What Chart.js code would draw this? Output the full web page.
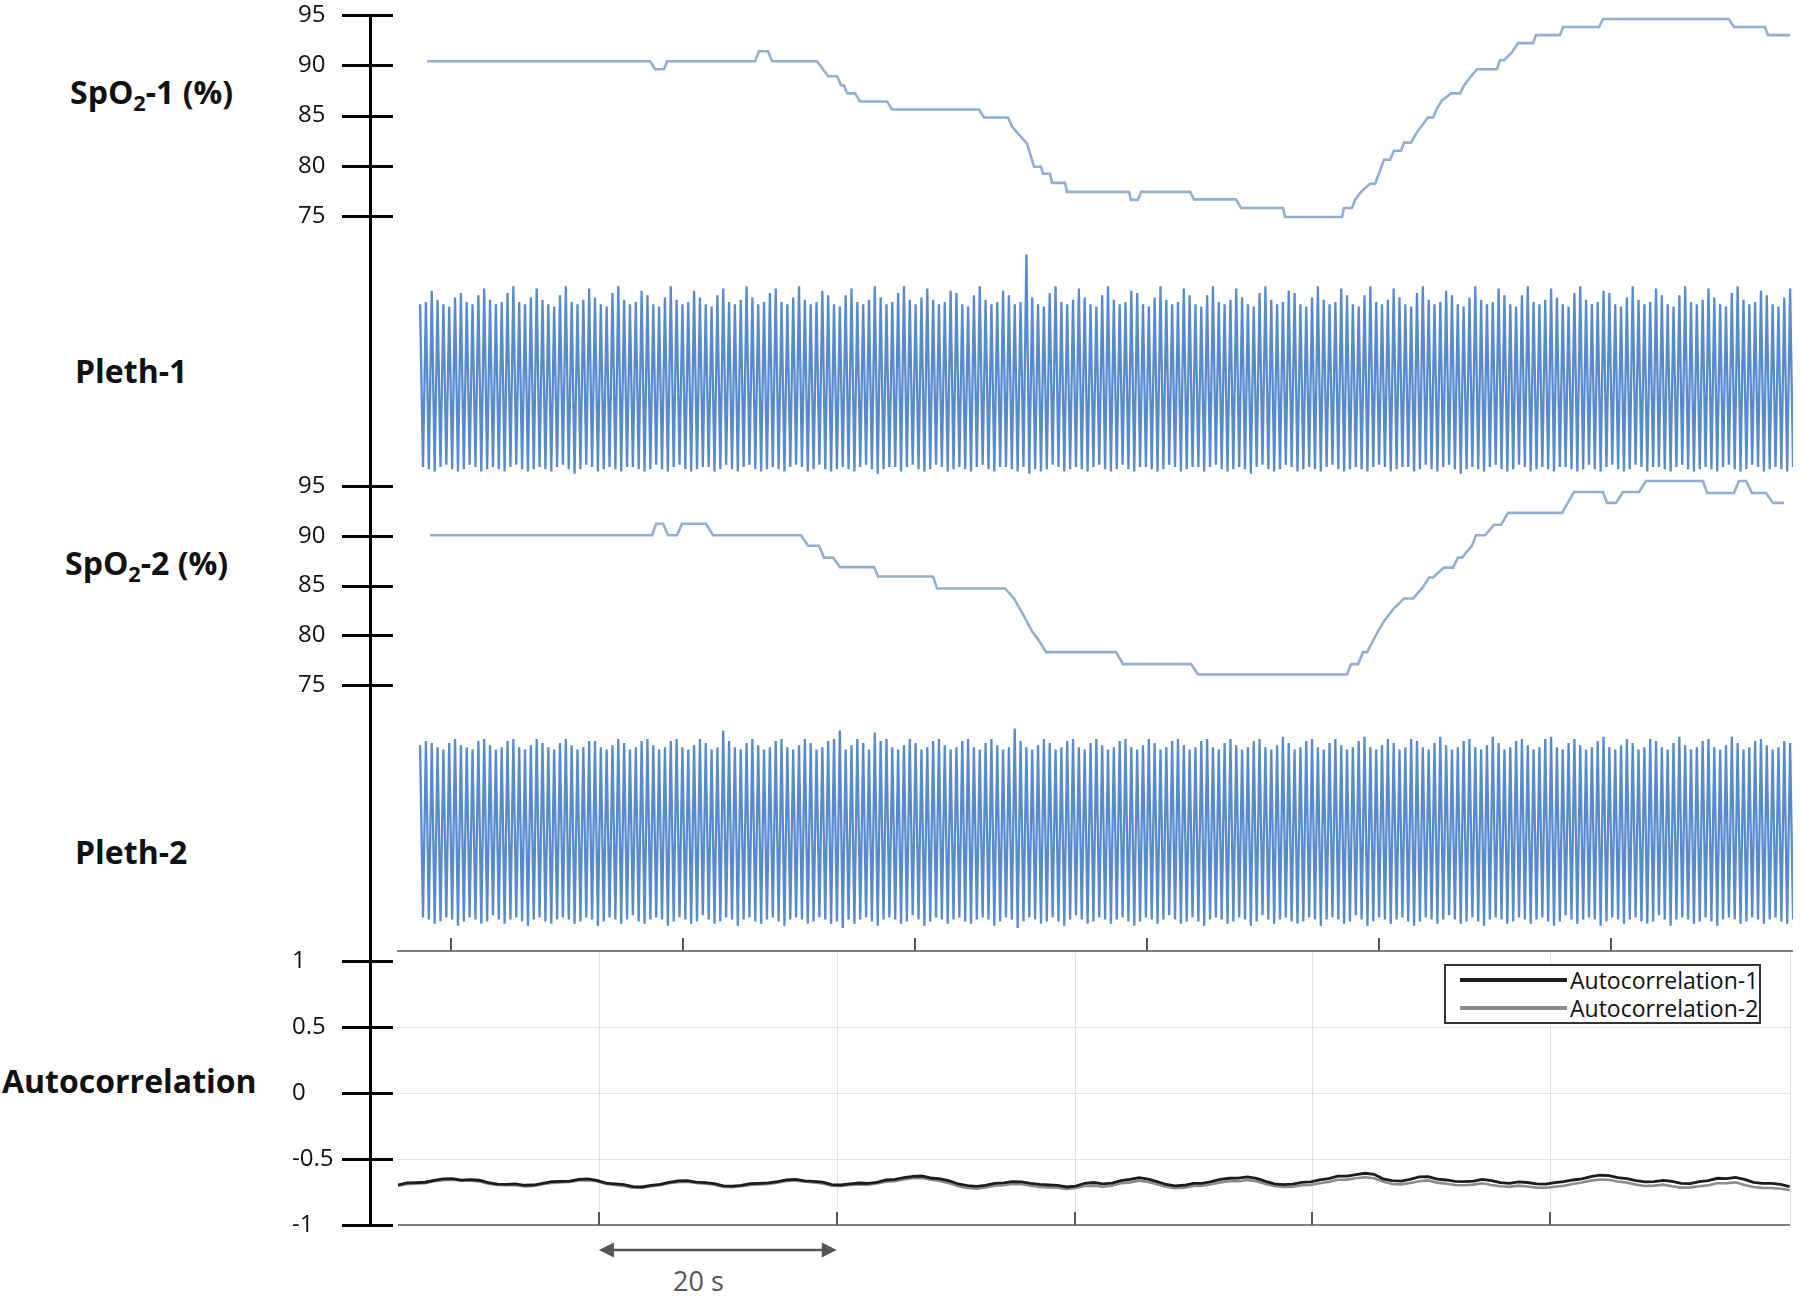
<!DOCTYPE html>
<html>
<head>
<meta charset="utf-8">
<script src="https://cdn.jsdelivr.net/npm/chart.js@4.4.0/dist/chart.umd.min.js"></script>
<style>
  html, body { margin: 0; padding: 0; background: #fff; }
  #page { position: relative; width: 1800px; height: 1298px; overflow: hidden; font-family: 'Open Sans', sans-serif; }
  .panel { position: absolute; left: 0; width: 1800px; }
  .title { position: absolute; font-weight: 700; font-size: 32px; color: #111; line-height: 1; transform: translateY(-50%); white-space: nowrap; }
  .title sub { font-size: 0.68em; vertical-align: -0.3em; line-height: 0; }
  #legend { position: absolute; left: 1444px; top: 964px; width: 317px; height: 60px; box-sizing: border-box;
            border: 2px solid #333; background: #fff; padding-left: 14px; }
  #legend .item { height: 28px; display: flex; align-items: center; font-size: 23px; color: #111; white-space: nowrap; }
  #legend .swatch { display: inline-block; width: 107px; height: 3.5px; margin-right: 3px; }
  #scaleLabel { position: absolute; left: 673px; top: 1280px; transform: translateY(-50%); font-size: 27px; color: #555; line-height: 1; }
</style>
</head>
<body>
<div id="page">
  <div class="title" style="left:70px; top:92px">SpO<sub>2</sub>-1 (%)</div>
  <div class="title" style="left:75px; top:371px">Pleth-1</div>
  <div class="title" style="left:65px; top:563px">SpO<sub>2</sub>-2 (%)</div>
  <div class="title" style="left:75px; top:852px">Pleth-2</div>
  <div class="title" style="left:2px; top:1081px">Autocorrelation</div>
  <div id="scaleLabel">20 s</div>
</div>
<script>
// time axis shared by the SpO2 / Pleth panels (s)
const waveTicks = [0, 20, 40, 60, 80, 100];
const waveRange = [-4.66, 115.69];
const spoTicks = [75, 80, 85, 90, 95];

// SpO2-1: breakpoints of the step trace
const spo1Time = [-2.07, 17.16, 17.59, 18.36, 18.62, 26.21, 26.55, 27.33, 27.67, 31.55, 32.07, 32.50, 33.28, 33.62, 33.88,
  34.14, 34.83, 35.26, 37.59, 38.02, 45.52, 45.95, 48.02, 48.36, 48.88, 49.66, 50.26, 50.86, 51.03, 51.64, 51.81, 52.93,
  53.10, 58.45, 58.62, 59.22, 59.48, 63.71, 64.05, 67.67, 68.10, 71.72, 71.90, 76.81, 76.98, 77.67, 77.93, 78.45, 79.22,
  79.66, 80.43, 80.95, 81.29, 81.90, 82.16, 82.76, 83.19, 83.71, 84.22, 84.66, 85.00, 85.43, 86.21, 86.98, 87.33, 87.93,
  88.45, 90.17, 90.43, 90.78, 91.47, 91.98, 93.28, 93.53, 95.60, 95.86, 98.97, 99.31, 110.17, 110.60, 113.28, 113.53, 115.43];
const spo1Value = [90.4, 90.4, 89.6, 89.6, 90.4, 90.4, 91.4, 91.4, 90.4, 90.4, 89.6, 88.9, 88.9, 88.0, 88.0,
  87.2, 87.2, 86.4, 86.4, 85.6, 85.6, 84.8, 84.8, 83.9, 83.2, 82.2, 79.9, 79.9, 79.2, 79.2, 78.3, 78.3,
  77.4, 77.4, 76.6, 76.6, 77.4, 77.4, 76.65, 76.65, 75.8, 75.8, 74.9, 74.9, 75.8, 75.8, 76.6, 77.4, 78.2,
  78.2, 80.6, 80.6, 81.5, 81.5, 82.3, 82.3, 83.2, 84.0, 84.8, 84.8, 85.7, 86.5, 87.2, 87.2, 88.0, 88.9,
  89.6, 89.6, 90.5, 90.5, 91.3, 92.2, 92.2, 93.0, 93.0, 93.8, 93.8, 94.6, 94.6, 93.8, 93.8, 93.0, 93.0];

// SpO2-2
const spo2Time = [-1.81, 17.33, 17.67, 18.28, 18.71, 19.48, 19.91, 21.98, 22.59, 30.17, 30.78, 31.72, 32.16, 32.93, 33.53,
  36.47, 36.81, 41.55, 41.90, 47.76, 48.53, 49.31, 50.09, 50.78, 51.29, 57.33, 57.93, 63.79, 64.40, 77.24, 77.59, 78.19,
  78.62, 78.97, 79.91, 80.43, 81.21, 82.16, 82.93, 83.71, 84.31, 84.66, 85.60, 86.38, 86.81, 87.16, 88.02, 88.36, 89.14,
  89.91, 90.52, 91.12, 95.78, 96.81, 99.31, 99.66, 100.43, 101.03, 102.41, 103.02, 107.93, 108.28, 110.60, 111.03, 111.64,
  112.16, 113.36, 113.97, 114.91];
const spo2Value = [90.05, 90.05, 91.2, 91.2, 90.05, 90.05, 91.2, 91.2, 90.05, 90.05, 89.0, 89.0, 87.8, 87.8, 86.85,
  86.85, 85.9, 85.9, 84.7, 84.7, 83.7, 82.1, 80.4, 79.3, 78.3, 78.3, 77.1, 77.1, 76.05, 76.05, 77.1, 77.1,
  78.3, 78.3, 80.4, 81.4, 82.6, 83.7, 83.7, 84.7, 85.8, 85.8, 86.8, 86.8, 87.8, 87.8, 89.0, 90.05, 90.05,
  91.1, 91.1, 92.3, 92.3, 94.4, 94.4, 93.3, 93.3, 94.4, 94.4, 95.5, 95.5, 94.3, 94.3, 95.5, 95.5,
  94.3, 94.3, 93.3, 93.3];

// Pleth waveforms: one peak and one trough per beat (arbitrary units)
const plethStart = -2.67;
const plethHalfBeat = 0.2513;
const pleth1Peaks = [
  76,77,82,78,76,75,79,81,77,76,80,83,78,76,77,81,84,77,76,79,
  83,78,76,75,80,84,77,76,78,83,79,76,75,81,84,78,76,77,82,80,
  76,75,79,84,78,76,77,82,79,76,75,80,83,77,76,78,84,79,76,77,
  81,83,77,76,79,84,78,76,77,82,80,76,75,80,83,77,76,78,84,79,
  76,77,81,84,78,76,79,83,78,76,77,82,81,76,75,80,84,78,76,77,
  82,80,76,77,98,79,76,75,81,84,77,76,78,83,79,76,75,80,84,78,
  76,77,82,81,76,75,79,84,78,76,77,83,80,76,75,80,84,77,76,78,
  83,79,76,75,81,84,78,76,77,82,81,76,75,79,84,78,76,77,83,80,
  76,75,80,84,77,76,78,83,79,76,75,81,84,78,76,77,82,80,76,75,
  79,84,78,76,77,83,80,76,75,80,84,77,76,78,83,79,76,75,81,84,
  78,76,77,82,81,76,75,79,84,78,76,77,83,80,76,75,80,84,77,76,
  78,83,79,76,75,81,84,78,76,77,82,80,76,75,79,83];
const pleth1Troughs = [
  4,3,2,4,5,3,2,3,5,4,2,3,4,3,2,4,5,3,2,3,
  4,3,2,4,5,3,1,3,5,4,2,3,4,3,2,4,4,3,2,3,
  5,3,2,4,5,3,2,3,4,4,2,3,5,3,2,4,5,3,2,3,
  4,3,2,4,5,4,2,3,5,3,2,3,4,3,2,4,5,3,1,3,
  4,4,2,4,5,3,2,3,5,4,2,3,4,3,2,4,5,3,2,4,
  4,3,2,4,1,3,2,3,5,4,2,3,4,3,2,4,5,3,2,3,
  5,3,2,4,4,3,2,3,5,4,2,3,4,4,2,4,5,3,2,3,
  4,3,1,4,5,3,2,3,5,4,2,3,4,3,2,4,5,3,2,3,
  4,3,2,4,5,4,2,3,4,4,2,3,5,3,2,4,5,3,1,3,
  4,3,2,4,5,3,2,3,5,4,2,3,4,3,2,4,4,3,2,3,
  5,3,2,4,5,3,2,3,5,4,2,4,4,3,2,4,5,3,2,3,
  4,3,2,4,5,3,2,3,5,4,2,3,4,3,2,4];
const pleth2Peaks = [
  88,90,89,87,86,89,91,88,87,86,90,91,88,86,87,90,91,87,86,88,
  91,89,87,86,89,91,88,86,87,90,90,87,86,88,91,89,86,87,90,91,
  88,86,87,90,91,87,86,88,91,89,86,87,95,90,87,86,89,91,88,86,
  87,90,91,87,86,88,91,89,86,87,90,91,95,86,88,91,89,86,94,90,
  91,87,86,88,91,89,86,87,90,91,88,86,87,90,91,87,86,89,91,88,
  86,87,96,90,87,86,88,91,89,86,87,90,91,87,86,89,91,88,86,87,
  90,91,87,86,88,91,89,86,87,90,91,88,86,87,90,91,87,86,89,91,
  88,86,87,90,91,87,86,88,92,89,86,87,90,91,87,86,89,91,88,86,
  87,90,92,87,86,88,91,89,86,87,91,90,87,86,89,92,88,86,87,90,
  91,87,86,88,92,89,86,87,90,91,88,86,87,91,92,87,86,89,91,88,
  86,87,90,92,87,86,88,91,89,86,87,91,90,87,86,89,92,88,86,87,
  90,91,87,86,88,92,89,86,87,90,91,88,86,87,90,89];
const pleth2Troughs = [
  6,5,3,4,6,5,2,4,6,5,3,4,7,5,3,5,6,4,2,5,
  6,4,3,5,6,5,3,4,6,5,2,4,6,5,3,5,7,4,3,5,
  6,5,2,4,6,5,3,4,7,5,3,4,6,5,2,5,6,4,3,5,
  6,4,2,5,6,5,3,4,6,5,3,4,1,5,3,5,6,4,2,5,
  6,5,3,4,7,5,2,4,6,5,3,5,6,4,3,5,6,5,2,4,
  6,5,1,4,6,5,3,4,6,4,2,5,7,5,3,4,6,5,3,5,
  6,4,2,4,6,5,3,5,7,5,3,4,6,4,2,5,6,5,3,4,
  6,5,2,4,7,5,3,5,6,4,3,4,6,5,2,5,6,5,3,4,
  7,5,2,4,6,5,3,5,6,4,2,4,6,5,3,5,7,5,3,4,
  6,4,2,5,6,5,3,4,6,5,3,5,6,4,2,4,7,5,3,5,
  6,5,2,4,6,5,3,5,6,4,3,4,7,5,2,5,6,5,3,4,
  6,4,2,5,6,5,3,4,6,5,3,5,6,4,3,5];

// Autocorrelation panel (own time axis, s)
const acTicks = [-1, -0.5, 0, 0.5, 1];
const acGrid = [20, 40, 60, 80, 100];
const acRange = [3.1, 120.17];
const acStart = 3.1;
const acStep = 0.76;
const acLabels = ['Autocorrelation-1', 'Autocorrelation-2'];
const ac1 = [
  -0.697,-0.681,-0.679,-0.676,-0.662,-0.650,-0.649,-0.660,-0.657,-0.661,
  -0.679,-0.691,-0.692,-0.688,-0.699,-0.697,-0.684,-0.671,-0.669,-0.668,
  -0.654,-0.650,-0.662,-0.683,-0.689,-0.694,-0.710,-0.712,-0.699,-0.693,
  -0.677,-0.666,-0.664,-0.675,-0.679,-0.686,-0.704,-0.706,-0.699,-0.686,
  -0.684,-0.681,-0.672,-0.659,-0.654,-0.666,-0.669,-0.676,-0.694,-0.697,
  -0.689,-0.682,-0.684,-0.677,-0.659,-0.655,-0.641,-0.631,-0.629,-0.644,
  -0.651,-0.665,-0.689,-0.701,-0.707,-0.699,-0.684,-0.681,-0.672,-0.673,
  -0.684,-0.693,-0.697,-0.700,-0.712,-0.706,-0.684,-0.678,-0.689,-0.682,
  -0.664,-0.655,-0.641,-0.652,-0.672,-0.693,-0.704,-0.699,-0.684,-0.684,
  -0.672,-0.654,-0.646,-0.645,-0.636,-0.647,-0.669,-0.688,-0.694,-0.690,
  -0.677,-0.674,-0.659,-0.648,-0.629,-0.630,-0.619,-0.608,-0.616,-0.650,
  -0.664,-0.667,-0.654,-0.636,-0.634,-0.652,-0.659,-0.670,-0.672,-0.668,
  -0.654,-0.663,-0.679,-0.684,-0.674,-0.678,-0.689,-0.690,-0.679,-0.671,
  -0.659,-0.650,-0.634,-0.623,-0.626,-0.641,-0.649,-0.664,-0.674,-0.672,
  -0.662,-0.670,-0.684,-0.686,-0.672,-0.663,-0.646,-0.648,-0.639,-0.655,
  -0.677,-0.684,-0.684,-0.692,-0.710];
const ac2 = [
  -0.704,-0.690,-0.687,-0.683,-0.669,-0.660,-0.657,-0.664,-0.664,-0.670,
  -0.687,-0.697,-0.699,-0.698,-0.707,-0.704,-0.692,-0.681,-0.677,-0.674,
  -0.662,-0.660,-0.669,-0.688,-0.697,-0.704,-0.717,-0.718,-0.707,-0.699,
  -0.684,-0.676,-0.672,-0.682,-0.687,-0.695,-0.712,-0.714,-0.707,-0.696,
  -0.692,-0.689,-0.679,-0.667,-0.662,-0.672,-0.677,-0.686,-0.702,-0.704,
  -0.697,-0.692,-0.694,-0.686,-0.672,-0.668,-0.654,-0.645,-0.644,-0.657,
  -0.667,-0.684,-0.707,-0.719,-0.725,-0.716,-0.702,-0.699,-0.689,-0.691,
  -0.702,-0.711,-0.715,-0.717,-0.727,-0.720,-0.704,-0.702,-0.710,-0.703,
  -0.684,-0.677,-0.664,-0.674,-0.692,-0.711,-0.722,-0.717,-0.704,-0.702,
  -0.692,-0.677,-0.669,-0.668,-0.659,-0.668,-0.689,-0.704,-0.712,-0.710,
  -0.699,-0.697,-0.684,-0.674,-0.657,-0.656,-0.646,-0.638,-0.646,-0.671,
  -0.689,-0.692,-0.682,-0.668,-0.662,-0.679,-0.687,-0.697,-0.699,-0.694,
  -0.684,-0.697,-0.707,-0.711,-0.702,-0.708,-0.717,-0.718,-0.710,-0.703,
  -0.689,-0.678,-0.664,-0.655,-0.657,-0.670,-0.679,-0.694,-0.704,-0.702,
  -0.694,-0.707,-0.717,-0.715,-0.707,-0.699,-0.684,-0.684,-0.677,-0.697,
  -0.712,-0.719,-0.720,-0.725,-0.735];

const FONT = "'Open Sans', sans-serif";
const AXIS_X = 370.5;

function pairs(times, values) {
  return values.map((v, i) => ({ x: times[i], y: v }));
}
function zigzag(peaks, troughs) {
  const pts = [];
  peaks.forEach((p, i) => {
    pts.push({ x: plethStart + 2 * i * plethHalfBeat, y: p });
    pts.push({ x: plethStart + (2 * i + 1) * plethHalfBeat, y: troughs[i] });
  });
  return pts;
}

// thick black axis running down the left of every panel, with crossing ticks;
// each panel paints only its own band so the pieces butt together
const axisLine = {
  id: 'axisLine',
  afterDraw(chart, args, o) {
    const { ctx, chartArea: a } = chart;
    const y0 = o.first ? Math.round(a.top) - 1 : o.from;
    const y1 = o.last ? Math.round(a.bottom) + 2 : o.to;
    ctx.save();
    ctx.fillStyle = '#000';
    ctx.fillRect(AXIS_X - 1.5, y0, 3, y1 - y0);
    (o.marks || []).forEach(v => {
      const py = Math.round(chart.scales.y.getPixelForValue(v));
      ctx.fillRect(AXIS_X - 28.5, py - 1, 51, 3);
    });
    ctx.restore();
  }
};

// grey time axis with inward ticks, optional grid, frame and scale arrow
const timeAxis = {
  id: 'timeAxis',
  beforeDatasetsDraw(chart, args, o) {
    if (!o.ticks || !o.grid) return;
    const { ctx, chartArea: a, scales: { x } } = chart;
    ctx.save();
    ctx.strokeStyle = '#e3e3e3';
    ctx.lineWidth = 1;
    ctx.beginPath();
    o.ticks.forEach(v => {
      const px = Math.round(x.getPixelForValue(v)) + 0.5;
      ctx.moveTo(px, a.top - 8);
      ctx.lineTo(px, a.bottom);
    });
    ctx.moveTo(a.right + 0.5, a.top - 8);
    ctx.lineTo(a.right + 0.5, a.bottom);
    ctx.stroke();
    ctx.restore();
  },
  afterDraw(chart, args, o) {
    if (!o.ticks) return;
    const { ctx, chartArea: a, scales: { x } } = chart;
    ctx.save();
    ctx.strokeStyle = '#808080';
    ctx.lineWidth = 2;
    ctx.beginPath();
    ctx.moveTo(a.left, a.bottom);
    ctx.lineTo(a.right, a.bottom);
    ctx.stroke();
    ctx.strokeStyle = '#555';
    ctx.beginPath();
    o.ticks.forEach(v => {
      const px = Math.round(x.getPixelForValue(v));
      ctx.moveTo(px, a.bottom);
      ctx.lineTo(px, a.bottom - 13);
    });
    ctx.stroke();
    if (o.arrow) {
      const x0 = x.getPixelForValue(o.arrow[0]);
      const x1 = x.getPixelForValue(o.arrow[1]);
      const y = a.bottom + 25;
      ctx.strokeStyle = '#555';
      ctx.fillStyle = '#555';
      ctx.lineWidth = 2.5;
      ctx.beginPath();
      ctx.moveTo(x0 + 10, y);
      ctx.lineTo(x1 - 10, y);
      ctx.stroke();
      ctx.beginPath();
      ctx.moveTo(x0, y); ctx.lineTo(x0 + 15, y - 7.5); ctx.lineTo(x0 + 15, y + 7.5); ctx.closePath();
      ctx.moveTo(x1, y); ctx.lineTo(x1 - 15, y - 7.5); ctx.lineTo(x1 - 15, y + 7.5); ctx.closePath();
      ctx.fill();
    }
    ctx.restore();
  }
};

function makePanel(top, height, config) {
  const div = document.createElement('div');
  div.className = 'panel';
  div.style.top = top + 'px';
  div.style.height = height + 'px';
  const canvas = document.createElement('canvas');
  canvas.width = 1800;
  canvas.height = height;
  div.appendChild(canvas);
  document.getElementById('page').appendChild(div);
  config.plugins = [axisLine, timeAxis];
  return new Chart(canvas, config);
}

function tickAxis(min, max, values, width) {
  return {
    min, max,
    afterBuildTicks: s => { s.ticks = values.map(v => ({ value: v })); },
    afterFit: s => { s.width = width; },
    grid: { display: false },
    border: { display: false },
    ticks: { crossAlign: 'far', color: '#111', font: { family: FONT, size: 24, lineHeight: 1 }, callback: v => String(v) }
  };
}

const baseOptions = (padding, y, x, plugins) => ({
  responsive: false,
  animation: false,
  devicePixelRatio: 1,
  layout: { padding },
  scales: { x, y },
  plugins: Object.assign({ legend: { display: false }, tooltip: { enabled: false } }, plugins)
});

const waveX = { type: 'linear', min: waveRange[0], max: waveRange[1], display: false };
const SPO_COLOR = 'rgb(146,174,210)';
const PLETH_COLOR = 'rgb(88,138,206)';

// SpO2-1
makePanel(0, 260, {
  type: 'line',
  data: { datasets: [{ data: pairs(spo1Time, spo1Value), borderColor: SPO_COLOR, borderWidth: 2.6, pointRadius: 0, clip: false }] },
  options: baseOptions({ left: 298, right: 7, top: 14, bottom: 44 }, tickAxis(75, 95, spoTicks, 99), waveX,
    { axisLine: { first: true, to: 250, marks: spoTicks } })
});

// Pleth-1
makePanel(240, 240, {
  type: 'line',
  data: { datasets: [{ data: zigzag(pleth1Peaks, pleth1Troughs), borderColor: PLETH_COLOR, borderWidth: 2.3, pointRadius: 0 }] },
  options: baseOptions({ left: 397, right: 7, top: 10, bottom: 4 }, { min: 0, max: 100, display: false }, waveX,
    { axisLine: { from: 10, to: 236 } })
});

// SpO2-2
makePanel(470, 230, {
  type: 'line',
  data: { datasets: [{ data: pairs(spo2Time, spo2Value), borderColor: SPO_COLOR, borderWidth: 2.6, pointRadius: 0, clip: false }] },
  options: baseOptions({ left: 298, right: 7, top: 16, bottom: 12 }, tickAxis(75, 95, spoTicks, 99), waveX,
    { axisLine: { from: 6, to: 230, marks: spoTicks } })
});

// Pleth-2 with the shared time axis underneath
makePanel(700, 260, {
  type: 'line',
  data: { datasets: [{ data: zigzag(pleth2Peaks, pleth2Troughs), borderColor: PLETH_COLOR, borderWidth: 2.3, pointRadius: 0 }] },
  options: baseOptions({ left: 397, right: 7, top: 20, bottom: 9 }, { min: -10, max: 100, display: false }, waveX,
    { axisLine: { from: 0, to: 250 }, timeAxis: { ticks: waveTicks } })
});

// Autocorrelation
const acY = tickAxis(-1, 1, acTicks, 106);
acY.grid = { display: true, drawTicks: false, color: c => (c.tick && Math.abs(c.tick.value) < 1 ? '#e3e3e3' : 'transparent') };
const acChart = makePanel(940, 358, {
  type: 'line',
  data: {
    datasets: [
      { label: acLabels[0], data: ac1.map((v, i) => ({ x: acStart + i * acStep, y: v })), borderColor: '#1c1c1c', borderWidth: 2.8, pointRadius: 0 },
      { label: acLabels[1], data: ac2.map((v, i) => ({ x: acStart + i * acStep, y: v })), borderColor: '#8c8c8c', borderWidth: 2.6, pointRadius: 0 }
    ]
  },
  options: baseOptions({ left: 292, right: 10, top: 21, bottom: 73 }, acY,
    { type: 'linear', min: acRange[0], max: acRange[1], display: false },
    { axisLine: { from: 10, last: true, marks: acTicks }, timeAxis: { ticks: acGrid, grid: true, arrow: [20, 40] } })
});

// legend box built from the datasets
const legend = document.createElement('div');
legend.id = 'legend';
acChart.data.datasets.forEach(ds => {
  const row = document.createElement('div');
  row.className = 'item';
  const sw = document.createElement('span');
  sw.className = 'swatch';
  sw.style.background = ds.borderColor;
  const label = document.createElement('span');
  label.textContent = ds.label;
  row.appendChild(sw);
  row.appendChild(label);
  legend.appendChild(row);
});
document.getElementById('page').appendChild(legend);
</script>
</body>
</html>
